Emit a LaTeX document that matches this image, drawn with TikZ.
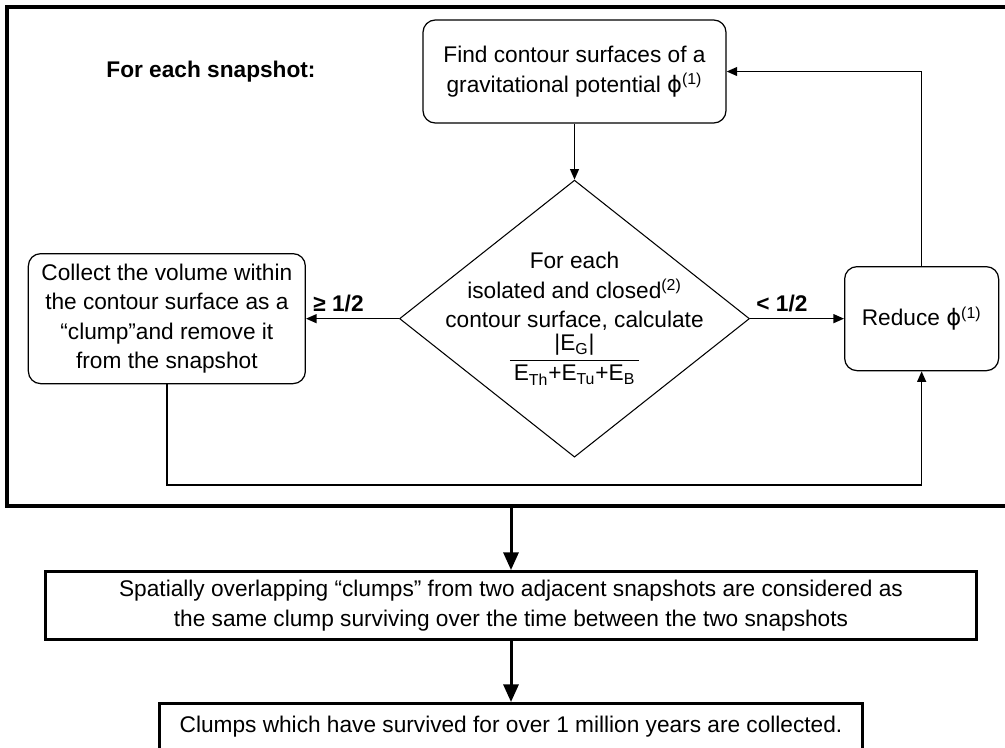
\documentclass[tikz,border=0pt]{standalone}
\usepackage{amsmath}
\usepackage{fontspec}
\setmainfont{Liberation Sans}
\newfontfamily\phifont{DejaVu Sans}
\newcommand{\potphi}{{\phifont ϕ}\textsuperscript{(1)}}
\usetikzlibrary{positioning,fit,shapes.geometric,arrows.meta}

\begin{document}
\begin{tikzpicture}[
  node distance=1.2cm and 1.9cm,
  txt/.style={font=\fontsize{12.9}{16.8}\selectfont, align=center},
  proc/.style 2 args={txt, draw, rounded corners=7pt, line width=0.7pt, minimum width=#1, minimum height=#2, inner sep=2pt},
  decision/.style={draw, diamond, line width=0.6pt, minimum width=7cm, minimum height=5.54cm, inner sep=0pt},
  wide/.style 2 args={txt, draw, line width=1.7pt, minimum width=#1, minimum height=#2, inner sep=2pt},
  frm/.style={draw, line width=2.3pt, inner sep=0pt},
  head/.style={font=\fontsize{12.9}{15}\selectfont\bfseries, inner sep=2pt},
  cond/.style={font=\fontsize{12.9}{15}\selectfont\bfseries, inner sep=3.5pt},
  arr/.style={-{Triangle[length=6pt, width=5pt]}, line width=0.95pt},
  bigarr/.style={-{Triangle[length=10pt, width=8.5pt]}, line width=1.7pt}
]
\useasboundingbox (0,0) rectangle (20.1,-14.94);

% ── Loop inside one snapshot ────────────────────────────────
\node[proc={6.06cm}{2.06cm}] (find) at (11.49,-1.43)
  {Find contour surfaces of a\\gravitational potential \potphi};
\node[head, left=2.06cm of find] (snap) {For each snapshot:};

\node[decision, below=1.12cm of find] (test) {};
\node[txt] (testtxt) at (test)
  {For each\\isolated and closed\textsuperscript{(2)}\\contour surface, calculate\\[1pt]
   $\genfrac{}{}{0.8pt}{0}{\text{|E\textsubscript{G}|}}{\text{\,E\textsubscript{Th}+E\textsubscript{Tu}+E\textsubscript{B}\,}}$};

\node[proc={5.54cm}{2.6cm}, left=1.86cm of test] (collect)
  {Collect the volume within\\the contour surface as a\\“clump”and remove it\\from the snapshot};
\node[proc={3.08cm}{2.08cm}, right=1.88cm of test] (reduce) {Reduce \potphi};

% ── Loop arrows ─────────────────────────────────────────────
\draw[arr] (find.south) -- (test.north);
\draw[arr] (test.west) -- node[cond, above, pos=0.65] {≥ 1/2} (collect.east);
\draw[arr] (test.east) -- node[cond, above, pos=0.34] {< 1/2} (reduce.west);
\draw[arr] (reduce.north) |- (find.east);
\coordinate[below=2.02cm of collect.south] (low);
\draw[arr] (collect.south) -- (low) -| (reduce.south);

% ── Snapshot frame ──────────────────────────────────────────
\coordinate (ftl) at (0.14,-0.14);
\coordinate (fbr) at (20.3,-10.12);
\node[frm, fit=(ftl)(fbr)] (frame) {};

% ── Across snapshots ────────────────────────────────────────
\node[wide={18.62cm}{1.36cm}, below=1.24cm of frame] (overlap)
  {Spatially overlapping “clumps” from two adjacent snapshots are considered as\\the same clump surviving over the time between the two snapshots};
\node[wide={14.06cm}{1.1cm}, text depth=0.28cm, below=1.22cm of overlap] (keep)
  {Clumps which have survived for over 1 million years are collected.};

\draw[bigarr] (frame.south) -- (overlap.north);
\draw[bigarr] (overlap.south) -- (keep.north);

\end{tikzpicture}
\end{document}
